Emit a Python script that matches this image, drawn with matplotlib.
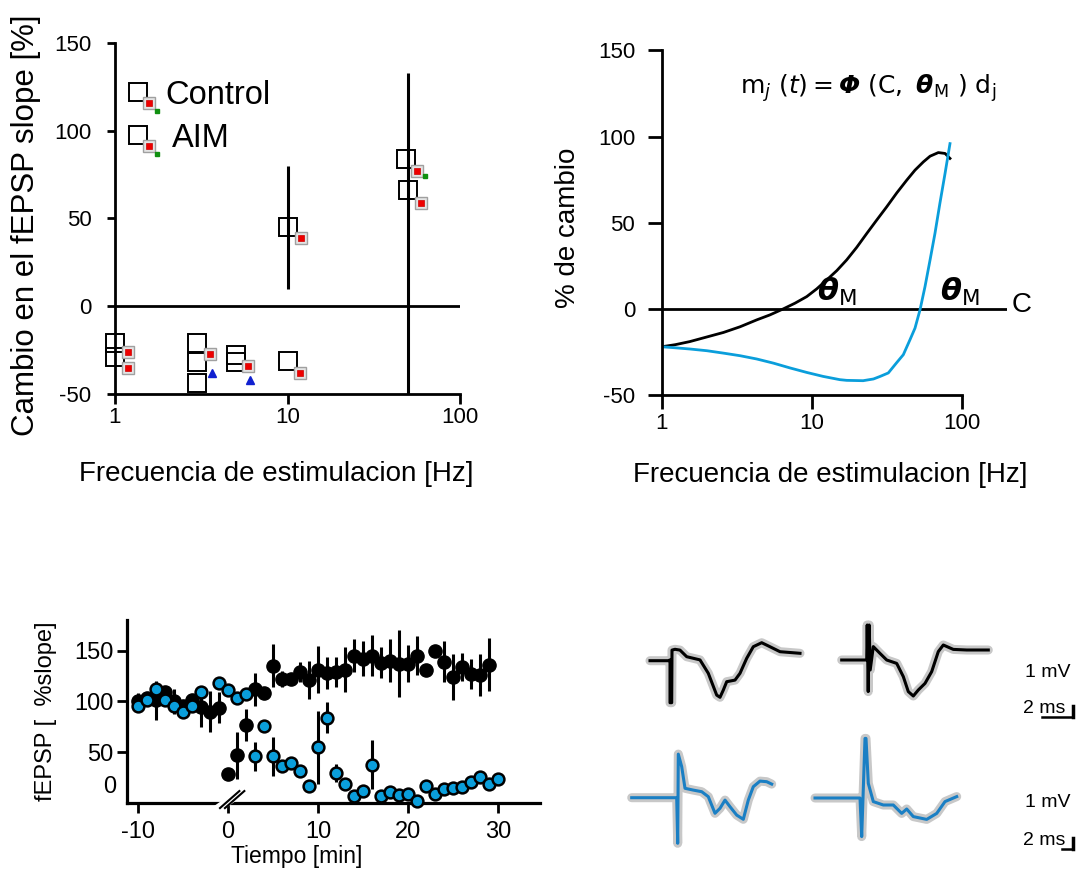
import numpy as np
import matplotlib.pyplot as plt
from matplotlib.lines import Line2D

plt.rcParams['font.family'] = ['Liberation Sans', 'DejaVu Sans']
plt.rcParams['mathtext.fontset'] = 'dejavusans'
plt.rcParams['axes.unicode_minus'] = False

# ---------------- data: top-left (frequency response) ----------------
freq_ctrl = [1.0, 1.0, 3.0, 3.0, 3.0, 5.0, 5.0, 10.0, 10.0, 48.6, 50.0]
slope_ctrl = [-21, -29, -21, -32, -44, -28, -32, -31, 45, 84, 66]
freq_ctrl_err = [10.0, 50.0]
ctrl_err_lo = [10, -50]
ctrl_err_hi = [80, 133]

freq_aim = [1.19, 1.19, 3.56, 5.9, 11.8, 11.9, 56.1, 59.4]
slope_aim = [-26, -35, -27, -34, -38, 39, 77, 59]
freq_tri = [3.65, 6.06]
slope_tri = [-38, -42]
freq_green = [63.0]
slope_green = [74]

# ---------------- data: top-right (BCM curves) ----------------
freq_black = [1.0, 1.23, 1.54, 2.58, 3.33, 4.30, 5.27, 6.47, 7.74, 9.26, 10.8, 12.6, 14.7,
              17.1, 19.95, 23.3, 27.1, 31.6, 36.9, 43.0, 48.8, 55.5, 61.5, 69.8, 77.4, 83.5]
pct_black = [-22, -20.8, -19, -13.7, -10.4, -6.4, -3.5, 0, 3.3, 7.1, 11.6, 16.8, 22.2,
             28.4, 35.7, 43.8, 51.5, 59.2, 67.3, 74.7, 80.5, 85.3, 88.6, 90.7, 90.2, 87.3]
freq_blue = [1.0, 1.23, 1.54, 2.0, 2.58, 3.33, 4.30, 5.55, 7.17, 9.26, 11.9, 15.4, 17.1,
             22.0, 25.8, 28.6, 32.4, 36.7, 40.8, 45.2, 48.8, 52.7, 56.9, 61.5, 66.3, 71.5,
             77.4, 83.5]
pct_blue = [-22, -22.6, -23.3, -24.3, -25.7, -27.2, -29.1, -31.5, -34.3, -36.9, -39.2, -41.1,
            -41.5, -41.7, -40.7, -39.2, -37.2, -31.4, -26.6, -17.9, -11.2, -0.6, 12.9, 28.4,
            43.8, 61.2, 78.6, 95.9]

# ---------------- data: bottom-left (time course) ----------------
t_ctrl = list(range(-10, 0)) + list(range(0, 30))
v_ctrl = [100, 103, 101, 109, 100, 96, 101, 95, 90, 94,
          29, 47, 77, 112, 108, 135, 122, 122, 129, 121,
          131, 128, 129, 131, 145, 142, 145, 138, 140, 137,
          137, 145, 131, 150, 139, 124, 134, 127, 126, 136]
e_ctrl = [8, 5, 19, 6, 12, 5, 5, 20, 20, 15,
          0, 23, 16, 16, 0, 21, 8, 5, 10, 19,
          23, 16, 15, 22, 16, 17, 20, 15, 21, 33,
          18, 19, 0, 0, 20, 23, 14, 15, 21, 26]

t_aim = [-10, -9, -8, -7, -6, -5, -4, -3, -1] + list(range(0, 31))
v_aim = [96, 101, 112, 101, 96, 90, 96, 109, 118,
         111, 103, 107, 46, 76, 46, 37, 40, 32, 17,
         55, 84, 30, 19, 7, 12, 38, 7, 11, 8,
         9, 2, 17, 9, 14, 15, 16, 21, 26, 19, 24]
e_aim = [0, 0, 0, 0, 0, 0, 0, 6, 0,
         0, 0, 0, 14, 0, 19, 0, 0, 0, 0,
         36, 15, 9, 0, 0, 0, 24, 0, 0, 0,
         0, 0, 0, 0, 0, 0, 0, 0, 0, 0, 0]

# ---------------- data: bottom-right (fEPSP traces, ms / mV) ----------------
tr1_t = [0, 1.83, 2.0, 2.0, 2.17, 2.2, 2.5, 3.0, 3.67, 5.0, 5.83, 6.67, 7.0, 7.33,
         7.67, 8.5, 9.0, 9.67, 10.33, 11.17, 11.83, 13.0, 15.0]
tr1_v = [0, 0, 0.04, -2.1, -2.1, 0.53, 0.57, 0.53, 0.2, 0.04, -0.63, -1.72, -1.83, -1.47,
         -1.05, -0.97, -0.63, 0.12, 0.7, 0.9, 0.74, 0.45, 0.37]
tr2_t = [0, 2.5, 2.55, 2.65, 2.75, 2.85, 3.16, 3.83, 4.5, 5.5, 6.16, 6.66, 7.16, 7.66,
         8.33, 9.0, 9.66, 10.16, 11.16, 12.5, 14.66]
tr2_v = [0, 0, 1.75, -1.58, 1.75, -0.5, 0.67, 0.33, 0, -0.17, -0.83, -1.58, -1.8, -1.5,
         -1.17, -0.58, 0.42, 0.75, 0.53, 0.5, 0.5]
tr3_t = [0, 4.5, 4.6, 4.66, 5.0, 5.33, 6.16, 7.0, 7.66, 8.33, 8.83, 9.33, 9.83, 10.5,
         11.16, 11.66, 12.16, 12.83, 13.5, 14.0]
tr3_v = [0, 0, -2.28, 2.18, 1.55, 0.47, 0.38, 0.3, 0.05, -0.78, -0.53, -0.12, -0.45, -0.87,
         -1.08, -0.12, 0.55, 0.83, 0.8, 0.68]
tr4_t = [0, 4.5, 4.67, 5.0, 5.1, 5.33, 5.83, 6.83, 7.83, 8.67, 9.17, 9.83, 11.17, 12.17,
         13.0, 14.17]
tr4_v = [0, 0, -1.93, 2.98, 2.98, 0.73, -0.18, -0.35, -0.35, -0.77, -0.55, -0.93, -1.07, -0.77,
         -0.18, 0.07]

BLUE = '#0a9edb'
TRACE_BLUE = '#1a7fc4'
W, H = 1083, 880


def px_rect(l, t, r, b):
    return [l / W, 1 - b / H, (r - l) / W, (b - t) / H]


fig = plt.figure(figsize=(W / 100, H / 100), dpi=100)

# ── top-left: change in fEPSP slope vs frequency ──
ax1 = fig.add_axes(px_rect(115, 43, 460, 394))
ax1.set_xscale('log')
ax1.set_xlim(1, 100)
ax1.set_ylim(-50, 150)
for s in ['top', 'right']:
    ax1.spines[s].set_visible(False)
for s in ['left', 'bottom']:
    ax1.spines[s].set_linewidth(2)
ax1.axhline(0, color='black', lw=2)
ax1.vlines(freq_ctrl_err, ctrl_err_lo, ctrl_err_hi, color='black', lw=2.2)
ax1.plot(freq_ctrl, slope_ctrl, 's', ms=13, mfc='none', mec='black', mew=1.4, clip_on=False)
ax1.plot(freq_aim, slope_aim, 's', ms=9, mfc='#e4e4e4', mec='#a0a0a0', mew=1, clip_on=False)
ax1.plot(freq_aim, slope_aim, 's', ms=5, mfc='#ee0000', mec='#cc0000', mew=0.5, clip_on=False)
ax1.plot(freq_tri, slope_tri, '^', ms=6, mfc='#1020d0', mec='#1020d0')
ax1.plot(freq_green, slope_green, 's', ms=3, mfc='#109010', mec='#109010')
ax1.set_xticks([1, 10, 100])
ax1.set_xticklabels(['1', '10', '100'])
ax1.xaxis.set_minor_locator(plt.NullLocator())
ax1.set_yticks([-50, 0, 50, 100, 150])
ax1.tick_params(axis='y', direction='out', length=6, width=2, labelsize=16, pad=11)
ax1.tick_params(axis='x', direction='out', length=7, width=2, labelsize=16, pad=2)
ax1.set_xlabel('Frecuencia de estimulacion [Hz]', fontsize=20)
ax1.xaxis.set_label_coords(0.467, -0.19)
ax1.set_ylabel('Cambio en el fEPSP slope [%]', fontsize=22.5)
ax1.yaxis.set_label_coords(-0.215, 0.48)

# legend
for ly, label, lx in [(0.860, 'Control', 0.145), (0.738, 'AIM', 0.164)]:
    ax1.plot([0.0667], [ly], 's', ms=13, mfc='none', mec='black', mew=1.4,
             transform=ax1.transAxes, clip_on=False)
    ax1.plot([0.0986], [ly - 0.031], 's', ms=9, mfc='#e4e4e4', mec='#a0a0a0', mew=1,
             transform=ax1.transAxes, clip_on=False)
    ax1.plot([0.0986], [ly - 0.031], 's', ms=5, mfc='#ee0000', mec='#cc0000', mew=0.5,
             transform=ax1.transAxes, clip_on=False)
    ax1.plot([0.122], [ly - 0.055], 's', ms=2.5, mfc='#109010', mec='#109010',
             transform=ax1.transAxes, clip_on=False)
    ax1.text(lx, ly - 0.01, label, fontsize=23.5, ha='left', va='center',
             transform=ax1.transAxes)

# ── top-right: modification curves ──
ax2 = fig.add_axes(px_rect(661.7, 50.4, 1006.9, 395))
ax2.set_xscale('log')
ax2.set_xlim(1, 200)
ax2.set_ylim(-50, 150)
for s in ['top', 'right']:
    ax2.spines[s].set_visible(False)
for s in ['left', 'bottom']:
    ax2.spines[s].set_linewidth(2)
ax2.spines['bottom'].set_bounds(1, 100)
ax2.axhline(0, color='black', lw=2)
ax2.plot(freq_black, pct_black, color='black', lw=2, solid_joinstyle='round')
ax2.plot(freq_blue, pct_blue, color=BLUE, lw=2, solid_joinstyle='round')
ax2.set_xticks([1, 10, 100])
ax2.set_xticklabels(['1', '10', '100'])
ax2.xaxis.set_minor_locator(plt.NullLocator())
ax2.set_yticks([-50, 0, 50, 100, 150])
ax2.tick_params(axis='y', direction='out', length=10, width=2, labelsize=16, pad=9)
ax2.tick_params(axis='x', direction='out', length=10, width=2, labelsize=16, pad=3)
ax2.set_xlabel('Frecuencia de estimulacion [Hz]', fontsize=20)
ax2.xaxis.set_label_coords(0.4876, -0.195)
ax2.set_ylabel('% de cambio', fontsize=20)
ax2.yaxis.set_label_coords(-0.235, 0.485)
ax2.text(0.598, 0.891,
         r'$\mathrm{m}_{j}\ (t) = \mathbfit{\Phi}\ (\mathrm{C},\ \mathbfit{\theta}_{\mathrm{M}}\ )\ \mathrm{d}_{\mathrm{j}}$',
         transform=ax2.transAxes, fontsize=18, ha='center', va='center')
for fx in [14.7, 97.4]:
    ax2.text(fx, 10, r'$\mathbfit{\theta}_{\mathrm{M}}$', fontsize=22, ha='center', va='center')
ax2.text(252, 2, 'C', fontsize=20, ha='center', va='center', clip_on=False)

# ── bottom-left: time course ──
ax3 = fig.add_axes(px_rect(127.3, 620, 540, 803.3))
ax3.set_xlim(-11.19, 34.67)
ax3.set_ylim(0, 180)
for s in ['top', 'right']:
    ax3.spines[s].set_visible(False)
for s in ['left', 'bottom']:
    ax3.spines[s].set_linewidth(2.3)
ax3.errorbar(t_ctrl, v_ctrl, yerr=e_ctrl, fmt='o', ms=9.5, mfc='black', mec='black',
             ecolor='black', elinewidth=2.2, capsize=0, clip_on=False, zorder=3)
ax3.errorbar(t_aim, v_aim, yerr=e_aim, fmt='o', ms=8.5, mfc=BLUE, mec='black', mew=1.8,
             ecolor='black', elinewidth=2.2, capsize=0, clip_on=False, zorder=4)
ax3.set_xticks([-10, 0, 10, 20, 30])
ax3.set_yticks([50, 100, 150])
ax3.tick_params(axis='both', direction='out', length=7, width=2, labelsize=17, pad=3)
ax3.tick_params(axis='x', pad=6)
ax3.annotate('0', xy=(0, 0), xycoords=('axes fraction', 'data'), xytext=(-8, 12),
             textcoords='offset points', ha='right', va='center', fontsize=17)
ax3.set_xlabel('Tiempo [min]', fontsize=16.5)
ax3.xaxis.set_label_coords(0.411, -0.225)
ax3.set_ylabel('fEPSP [  %slope]', fontsize=17)
ax3.yaxis.set_label_coords(-0.17, 0.5)
# axis break
ax3.plot([0.215, 0.285], [-0.035, 0.075], color='white', lw=6, transform=ax3.transAxes,
         clip_on=False, zorder=5)
for dx in [0.0, 0.012]:
    ax3.plot([0.2246 + dx, 0.2716 + dx], [-0.026, 0.067], color='black', lw=1.5,
             transform=ax3.transAxes, clip_on=False, zorder=6)

# ── bottom-right: example traces ──
PX_PER_MS = 10.0
PX_PER_MV = 20.0
traces = [
    ((650, 660.7), tr1_t, tr1_v, 'black'),
    ((841.7, 660), tr2_t, tr2_v, 'black'),
    ((631.7, 797.7), tr3_t, tr3_v, TRACE_BLUE),
    ((815, 798), tr4_t, tr4_v, TRACE_BLUE),
]
for (x0, y0), tt, vv, col in traces:
    axt = fig.add_axes(px_rect(x0 - 10, y0 - 70, x0 + 180, y0 + 70))
    axt.set_xlim(-10 / PX_PER_MS, 180 / PX_PER_MS)
    axt.set_ylim(-70 / PX_PER_MV, 70 / PX_PER_MV)
    axt.axis('off')
    axt.plot(tt, vv, color='#c8c8c8', lw=6.5, solid_joinstyle='round', solid_capstyle='round')
    axt.plot(tt, vv, color=col, lw=2.2)

# scale bar labels
for ty_mv, ty_ms, bar_l in [(672, 708, 1041.7), (802, 840, 1061.7)]:
    fig.text(1025 / W, 1 - ty_mv / H, '1 mV', fontsize=14, ha='left', va='center')
    fig.text(1023 / W, 1 - ty_ms / H, '2 ms', fontsize=14, ha='left', va='center')
    yb = ty_ms + 9
    fig.add_artist(Line2D([bar_l / W, 1073 / W], [1 - yb / H, 1 - yb / H],
                          color='black', lw=1.8))
    fig.add_artist(Line2D([1073 / W, 1073 / W], [1 - yb / H, 1 - (yb - 11) / H],
                          color='black', lw=2.5))

fig.savefig('out.png', dpi=100)
